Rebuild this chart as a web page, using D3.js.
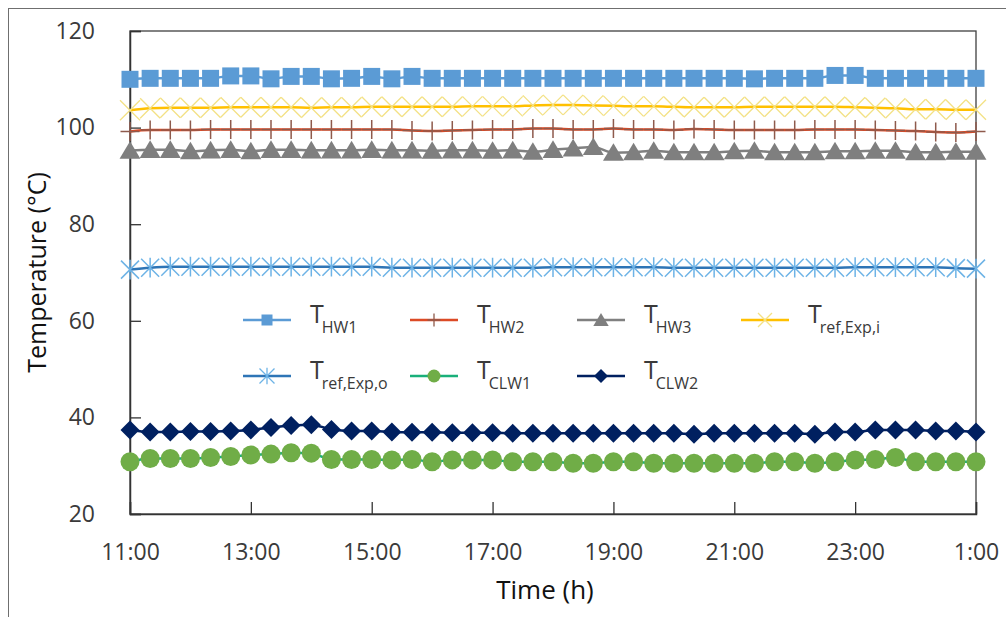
<!DOCTYPE html>
<html>
<head>
<meta charset="utf-8">
<script src="https://cdn.jsdelivr.net/npm/d3@7"></script>
<style>
  html, body { margin: 0; padding: 0; background: #fff; }
  svg { display: block; font-family: "Open Sans", "Noto Sans", sans-serif; }
</style>
</head>
<body>
<svg id="chart" width="1006" height="617"></svg>
<script>
// ---------------- DATA ----------------
const times = ["11:00","11:20","11:40","12:00","12:20","12:40","13:00","13:20","13:40","14:00","14:20","14:40",
  "15:00","15:20","15:40","16:00","16:20","16:40","17:00","17:20","17:40","18:00","18:20","18:40",
  "19:00","19:20","19:40","20:00","20:20","20:40","21:00","21:20","21:40","22:00","22:20","22:40",
  "23:00","23:20","23:40","0:00","0:20","0:40","1:00"];
const xTickLabels = ["11:00","13:00","15:00","17:00","19:00","21:00","23:00","1:00"];
const yTicks = [20, 40, 60, 80, 100, 120];

const T_HW1 = [110.0,110.2,110.2,110.2,110.2,110.7,110.7,110.1,110.6,110.6,110.1,110.2,110.6,110.1,110.6,110.2,
  110.2,110.2,110.2,110.2,110.2,110.2,110.2,110.2,110.2,110.2,110.2,110.2,110.2,110.2,110.2,110.1,110.2,110.2,
  110.2,110.8,110.8,110.2,110.2,110.2,110.2,110.2,110.2];
const T_HW2 = [99.2,99.5,99.5,99.5,99.6,99.6,99.6,99.6,99.6,99.6,99.6,99.6,99.6,99.6,99.4,99.3,99.4,99.5,99.6,
  99.6,99.8,99.8,99.6,99.6,99.8,99.6,99.6,99.5,99.7,99.6,99.5,99.5,99.5,99.5,99.6,99.6,99.6,99.5,99.4,99.3,
  99.1,99.0,99.2];
const T_HW3 = [95.2,95.4,95.4,95.1,95.3,95.4,95.1,95.4,95.4,95.3,95.3,95.3,95.4,95.3,95.3,95.2,95.3,95.3,95.2,
  95.3,95.0,95.4,95.7,96.0,94.8,94.9,95.2,94.9,94.9,94.9,95.1,95.2,94.9,94.9,94.9,95.1,95.1,95.2,95.2,94.9,
  94.9,95.0,95.0];
const T_refExpI = [103.6,104.0,104.1,104.1,104.1,104.2,104.2,104.2,104.2,104.1,104.2,104.2,104.3,104.3,104.3,
  104.3,104.3,104.4,104.4,104.4,104.6,104.7,104.7,104.6,104.5,104.4,104.4,104.3,104.2,104.2,104.2,104.3,104.3,
  104.3,104.3,104.3,104.2,104.1,104.0,103.8,103.8,103.7,103.7];
const T_refExpO = [70.6,71.0,71.2,71.2,71.2,71.2,71.2,71.2,71.2,71.2,71.2,71.2,71.2,71.0,71.0,71.0,71.0,71.0,
  71.0,71.0,71.0,71.1,71.1,71.1,71.1,71.1,71.1,71.0,71.0,71.0,71.0,71.0,71.0,71.0,71.0,71.0,71.1,71.1,71.1,
  71.1,71.1,70.9,70.8];
const T_CLW1 = [30.8,31.5,31.5,31.5,31.7,31.9,32.2,32.4,32.7,32.6,31.3,31.3,31.3,31.2,31.3,30.8,31.2,31.2,31.2,
  30.8,30.8,30.8,30.5,30.5,30.8,30.8,30.5,30.5,30.5,30.5,30.5,30.5,30.8,30.8,30.5,30.8,31.2,31.3,31.7,30.8,
  30.8,30.8,30.8];
const T_CLW2 = [37.4,37.0,37.0,37.1,37.1,37.2,37.4,37.9,38.3,38.5,37.5,37.2,37.2,37.0,36.9,36.9,36.8,36.8,36.8,
  36.7,36.7,36.7,36.7,36.7,36.7,36.7,36.7,36.7,36.5,36.7,36.7,36.7,36.7,36.7,36.5,37.0,37.0,37.4,37.4,37.4,
  37.2,37.2,37.0];

// --------------- SERIES STYLE ---------------
const series = [
  { name: "T", sub: "HW1", values: T_HW1, line: "#5B9BD5", lw: 2.5, marker: "square", mFill: "#5B9BD5", mStroke: "none" },
  { name: "T", sub: "HW2", values: T_HW2, line: "#DC4A25", lw: 2.5, marker: "plus", mFill: "none", mStroke: "#8E5A4C" },
  { name: "T", sub: "HW3", values: T_HW3, line: "#808080", lw: 2.5, marker: "triangle", mFill: "#7F7F7F", mStroke: "none" },
  { name: "T", sub: "ref,Exp,i", values: T_refExpI, line: "#FFC000", lw: 2.5, marker: "x", mFill: "none", mStroke: "#F3E185" },
  { name: "T", sub: "ref,Exp,o", values: T_refExpO, line: "#2E75B6", lw: 2.5, marker: "asterisk", mFill: "none", mStroke: "#6DB3E6" },
  { name: "T", sub: "CLW1", values: T_CLW1, line: "#19B07A", lw: 2.5, marker: "circle", mFill: "#70AD47", mStroke: "none" },
  { name: "T", sub: "CLW2", values: T_CLW2, line: "#002060", lw: 2.5, marker: "diamond", mFill: "#002060", mStroke: "none" }
];

// --------------- LAYOUT ---------------
const svg = d3.select("#chart");
const plot = { left: 130, right: 976, top: 31, bottom: 514 };

function hoursFromStart(t) {
  const [h, m] = t.split(":").map(Number);
  let hh = h + m / 60;
  if (hh < 11) hh += 24;
  return hh - 11;
}
const xs = times.map(hoursFromStart);

const x = d3.scaleLinear().domain([0, 14]).range([plot.left, plot.right]);
const y = d3.scaleLinear().domain([20, 120]).range([plot.bottom, plot.top]);

// outer chart border
svg.append("rect").attr("x", 8.5).attr("y", 8.5).attr("width", 1010).attr("height", 620)
  .attr("fill", "none").attr("stroke", "#6f6f6f").attr("stroke-width", 1);

// plot frame
svg.append("rect").attr("x", plot.left).attr("y", plot.top)
  .attr("width", plot.right - plot.left).attr("height", plot.bottom - plot.top)
  .attr("fill", "none").attr("stroke", "#404040").attr("stroke-width", 1.3);

// axes
const xAxis = d3.axisBottom(x).tickValues(d3.range(0, 15, 2)).tickSize(-12).tickPadding(30)
  .tickFormat((d, i) => xTickLabels[i]);
const gx = svg.append("g").attr("transform", `translate(0,${plot.bottom})`).call(xAxis);
gx.select(".domain").attr("stroke", "#333").attr("stroke-width", 1.5);
gx.selectAll(".tick line").attr("stroke", "#333").attr("stroke-width", 1.3);
gx.selectAll(".tick text").attr("font-size", 23).attr("fill", "#3a3a3a")
  .attr("font-family", "Open Sans");

const yAxis = d3.axisLeft(y).tickValues(yTicks).tickSize(-11).tickPadding(35);
const gy = svg.append("g").attr("transform", `translate(${plot.left},0)`).call(yAxis);
gy.select(".domain").attr("stroke", "#333").attr("stroke-width", 1.5);
gy.selectAll(".tick line").attr("stroke", "#333").attr("stroke-width", 1.3);
gy.selectAll(".tick text").attr("font-size", 23).attr("fill", "#3a3a3a")
  .attr("font-family", "Open Sans");

// axis titles
svg.append("text").attr("transform", `translate(46,${(plot.top + plot.bottom) / 2}) rotate(-90)`)
  .attr("text-anchor", "middle").attr("font-size", 25).attr("fill", "#111")
  .text("Temperature (°C)");
svg.append("text").attr("x", 545).attr("y", 599).attr("text-anchor", "middle")
  .attr("font-size", 26).attr("fill", "#111").text("Time (h)");

// --------------- MARKERS ---------------
function markerPath(type, s) {
  switch (type) {
    case "square": return `M${-s},${-s}H${s}V${s}H${-s}Z`;
    case "triangle": return `M0,${-s}L${s * 1.1},${s * 0.85}L${-s * 1.1},${s * 0.85}Z`;
    case "diamond": return `M0,${-s}L${s},0L0,${s}L${-s},0Z`;
    case "circle": return d3.symbol(d3.symbolCircle, Math.PI * s * s)();
    case "plus": return `M0,${-s}V${s}M${-s},0H${s}`;
    case "x": return `M${-s},${-s}L${s},${s}M${-s},${s}L${s},${-s}`;
    case "asterisk": return `M${-s},${-s}L${s},${s}M${-s},${s}L${s},${-s}M0,${-s * 1.1}V${s * 1.1}`;
  }
}
const plotSizes = { square: 8.5, triangle: 9.5, diamond: 9.5, circle: 9.5, plus: 9.5, x: 10, asterisk: 9 };
const legendSizes = { square: 5.5, triangle: 7, diamond: 7, circle: 6.5, plus: 6.5, x: 7, asterisk: 7.5 };

const lineGen = d3.line().x((d, i) => x(xs[i])).y(d => y(d)).curve(d3.curveMonotoneX);

series.forEach(s => {
  const g = svg.append("g");
  g.append("path").datum(s.values).attr("d", lineGen)
    .attr("fill", "none").attr("stroke", s.line).attr("stroke-width", s.lw);
  g.selectAll("path.m").data(s.values).join("path").attr("class", "m")
    .attr("transform", (d, i) => `translate(${x(xs[i])},${y(d)})`)
    .attr("d", markerPath(s.marker, plotSizes[s.marker]))
    .attr("fill", s.mFill).attr("stroke", s.mStroke)
    .attr("stroke-width", s.marker === "x" ? 1.3 : 1.5);
});

// --------------- LEGEND ---------------
const legendCols = [243, 410, 577, 741];
const legendRows = [320, 376];
series.forEach((s, k) => {
  const col = k < 4 ? k : k - 4;
  const row = k < 4 ? 0 : 1;
  const lx = legendCols[col], ly = legendRows[row];
  const g = svg.append("g").attr("transform", `translate(${lx},${ly})`);
  g.append("line").attr("x1", 0).attr("x2", 48).attr("y1", 0).attr("y2", 0)
    .attr("stroke", s.line).attr("stroke-width", 2.5);
  g.append("path").attr("transform", "translate(24,0)")
    .attr("d", markerPath(s.marker, legendSizes[s.marker]))
    .attr("fill", s.mFill).attr("stroke", s.mStroke).attr("stroke-width", 1.3);
  const t = g.append("text").attr("x", 67).attr("y", 3).attr("fill", "#3a3a3a").attr("font-size", 25);
  t.append("tspan").text(s.name);
  t.append("tspan").attr("dx", -2).attr("dy", 10).attr("font-size", 16).text(s.sub);
});
</script>
</body>
</html>
